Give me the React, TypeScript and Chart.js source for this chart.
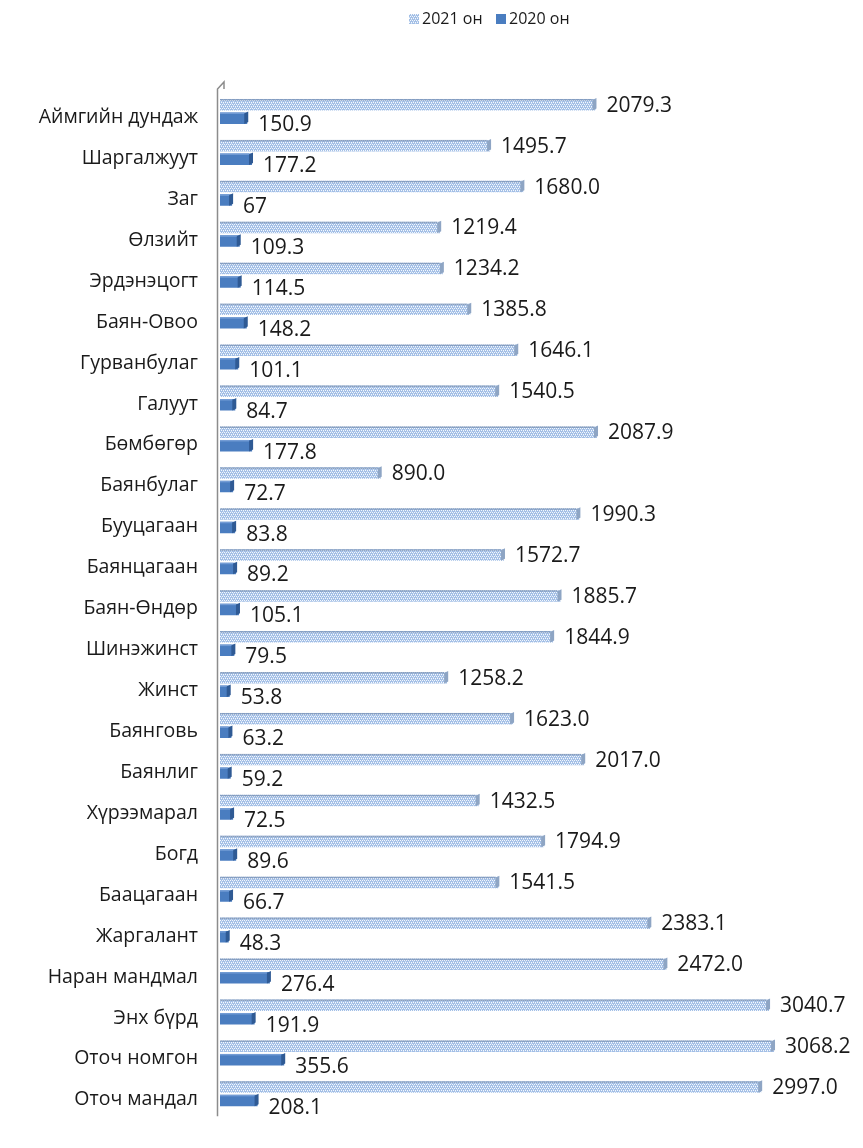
import React, { useEffect, useRef } from "react";
import { Chart, registerables } from "chart.js";

Chart.register(...registerables);

const categories = [
  "Аймгийн дундаж",
  "Шаргалжуут",
  "Заг",
  "Өлзийт",
  "Эрдэнэцогт",
  "Баян-Овоо",
  "Гурванбулаг",
  "Галуут",
  "Бөмбөгөр",
  "Баянбулаг",
  "Бууцагаан",
  "Баянцагаан",
  "Баян-Өндөр",
  "Шинэжинст",
  "Жинст",
  "Баянговь",
  "Баянлиг",
  "Хүрээмарал",
  "Богд",
  "Баацагаан",
  "Жаргалант",
  "Наран мандмал",
  "Энх бүрд",
  "Оточ номгон",
  "Оточ мандал",
];

const values2021 = [
  2079.3, 1495.7, 1680.0, 1219.4, 1234.2, 1385.8, 1646.1, 1540.5, 2087.9, 890.0,
  1990.3, 1572.7, 1885.7, 1844.9, 1258.2, 1623.0, 2017.0, 1432.5, 1794.9, 1541.5,
  2383.1, 2472.0, 3040.7, 3068.2, 2997.0,
];

const values2020 = [
  150.9, 177.2, 67, 109.3, 114.5, 148.2, 101.1, 84.7, 177.8, 72.7,
  83.8, 89.2, 105.1, 79.5, 53.8, 63.2, 59.2, 72.5, 89.6, 66.7,
  48.3, 276.4, 191.9, 355.6, 208.1,
];

const seriesNames = ["2021 он", "2020 он"];

const fmt = (v: number) => (v === 67 ? "67" : v.toFixed(1));

const FONT = "'Open Sans', 'Noto Sans', sans-serif";
const SOLID = "#4a7dc0";

function makePattern(): CanvasPattern | string {
  const c = document.createElement("canvas");
  c.width = 4;
  c.height = 4;
  const g = c.getContext("2d");
  if (!g) return "#c0d3ee";
  g.fillStyle = "#a3bfe6";
  g.fillRect(0, 0, 4, 4);
  g.fillStyle = "#f4f8fd";
  g.fillRect(0, 0, 1, 1);
  g.fillRect(2, 0, 1, 1);
  g.fillRect(1, 2, 1, 1);
  g.fillRect(3, 2, 1, 1);
  g.fillStyle = "#cbdcf2";
  g.fillRect(1, 1, 1, 1);
  g.fillRect(3, 3, 1, 1);
  const p = g.createPattern(c, "repeat");
  return p || "#c0d3ee";
}

const decoPlugin = {
  id: "deco",
  beforeDatasetsDraw(chart: any) {
    const { ctx, chartArea } = chart;
    const left = chartArea.left;
    ctx.save();
    ctx.strokeStyle = "#8c8c8c";
    ctx.lineWidth = 1.5;
    ctx.beginPath();
    ctx.moveTo(left - 2.5, chartArea.bottom + 2);
    ctx.lineTo(left - 2.5, chartArea.top - 2);
    ctx.lineTo(left + 4, chartArea.top - 9);
    ctx.lineTo(left + 4, chartArea.top - 2);
    ctx.stroke();
    ctx.restore();
  },
  afterDatasetsDraw(chart: any) {
    const { ctx } = chart;
    ctx.save();
    chart.data.datasets.forEach((ds: any, di: number) => {
      const meta = chart.getDatasetMeta(di);
      meta.data.forEach((el: any, i: number) => {
        const h = el.height;
        const top = el.y - h / 2;
        ctx.fillStyle = di === 0 ? "#8ea5c4" : "#2f5a94";
        ctx.beginPath();
        ctx.moveTo(el.x - 3, top + 1);
        ctx.lineTo(el.x + 1, top - 1);
        ctx.lineTo(el.x + 1, top + h - 2);
        ctx.lineTo(el.x - 3, top + h);
        ctx.closePath();
        ctx.fill();
        ctx.fillStyle = di === 0 ? "rgba(110,135,170,0.6)" : "rgba(120,160,215,0.9)";
        ctx.fillRect(el.base, top, el.x - el.base - 3, 1.5);
        ctx.fillStyle = "#1a1a1a";
        ctx.font = `21px ${FONT}`;
        ctx.textAlign = "left";
        ctx.textBaseline = "middle";
        const v = ds.data[i];
        const dy = di === 0 ? 1 : 7;
        ctx.fillText(fmt(v), el.x + 11, el.y + dy);
      });
    });
    // legend
    const items = [
      { x: 409, fill: chart.data.datasets[0].backgroundColor },
      { x: 496, fill: chart.data.datasets[1].backgroundColor },
    ];
    ctx.font = `16px ${FONT}`;
    ctx.textBaseline = "middle";
    ctx.textAlign = "left";
    items.forEach((it, k) => {
      ctx.fillStyle = it.fill;
      ctx.fillRect(it.x, 14, 10, 10);
      ctx.fillStyle = "#1a1a1a";
      ctx.fillText(seriesNames[k], it.x + 13, 19);
    });
    ctx.restore();
  },
};

export default function App() {
  const ref = useRef<HTMLCanvasElement | null>(null);

  useEffect(() => {
    if (!ref.current) return;
    const pattern = makePattern();
    const chart = new Chart(ref.current, {
      type: "bar",
      data: {
        labels: categories,
        datasets: [
          {
            label: seriesNames[0],
            data: values2021,
            backgroundColor: pattern as any,
            borderWidth: 0,
          },
          {
            label: seriesNames[1],
            data: values2020,
            backgroundColor: SOLID,
            borderWidth: 0,
          },
        ],
      },
      options: {
        indexAxis: "y",
        animation: false,
        responsive: true,
        maintainAspectRatio: false,
        layout: { padding: { top: 91, bottom: 3, right: 11, left: 0 } },
        datasets: {
          bar: { categoryPercentage: 0.66, barPercentage: 0.85 },
        } as any,
        scales: {
          x: {
            display: false,
            min: 0,
            max: 3500,
          },
          y: {
            grid: { display: false, drawTicks: false },
            border: { display: false },
            ticks: {
              color: "#1a1a1a",
              font: { family: FONT, size: 19.5 },
              padding: 22,
              labelOffset: 6,
              autoSkip: false,
            },
            afterFit(scale: any) {
              scale.width = 220;
            },
          },
        },
        plugins: {
          legend: { display: false },
          tooltip: { enabled: false },
        },
      },
      plugins: [decoPlugin],
    });
    return () => chart.destroy();
  }, []);

  return (
    <div style={{ position: "absolute", left: 0, top: 0, width: 863, height: 1148, background: "#fff" }}>
      <canvas ref={ref} />
    </div>
  );
}
